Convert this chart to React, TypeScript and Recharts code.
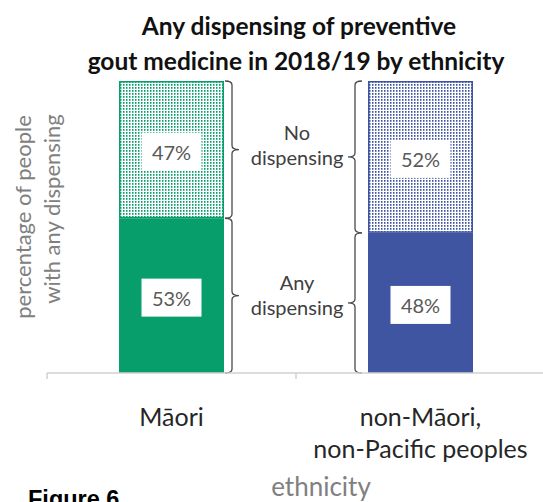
import React from "react";
import { BarChart, Bar, XAxis, YAxis, LabelList } from "recharts";

const categories = ["Māori", "non-Māori,\nnon-Pacific peoples"];
const anyDispensing = [53, 48];
const noDispensing = [47, 52];
const mainColors = ["#079e6b", "#3f55a2"];
const patternIds = ["dotsGreen", "dotsBlue"];

const data = categories.map((c, i) => ({
  name: c,
  any: anyDispensing[i],
  none: noDispensing[i],
}));

const FONT = "Lato, 'Open Sans', sans-serif";
const BRACE = "#4a4a4a";

function bracePath(x0: number, y1: number, y2: number, dir: number) {
  const d = 7 * dir;
  const t = 14 * dir;
  const ym = (y1 + y2) / 2;
  return `M${x0} ${y1} Q${x0 + d} ${y1} ${x0 + d} ${y1 + 4} L${x0 + d} ${ym - 4} Q${x0 + d} ${ym} ${x0 + t} ${ym} Q${x0 + d} ${ym} ${x0 + d} ${ym + 4} L${x0 + d} ${y2 - 4} Q${x0 + d} ${y2} ${x0} ${y2}`;
}

const AnyShape = (props: any) => {
  const { x, y, width, height, index } = props;
  const dir = index === 0 ? 1 : -1;
  const bx = index === 0 ? x + width + 1 : x - 6;
  return (
    <g>
      <rect x={x} y={y} width={width} height={height} fill={mainColors[index]} />
      <path d={bracePath(bx, y, y + height, dir)} fill="none" stroke={BRACE} strokeWidth={1.3} />
      {index === 0 && (
        <text x={x + width + 73} y={y + height / 2} textAnchor="middle" fontFamily={FONT} fontSize={20} fill="#404040">
          <tspan x={x + width + 73} dy={-6}>Any</tspan>
          <tspan x={x + width + 73} dy={25}>dispensing</tspan>
        </text>
      )}
    </g>
  );
};

const NoneShape = (props: any) => {
  const { x, y, width, height, index } = props;
  const dir = index === 0 ? 1 : -1;
  const bx = index === 0 ? x + width + 1 : x - 6;
  return (
    <g>
      <rect x={x + 0.75} y={y + 0.75} width={width - 1.5} height={height - 1.5} fill={`url(#${patternIds[index]})`} stroke={mainColors[index]} strokeWidth={1.5} />
      <path d={bracePath(bx, y, y + height, dir)} fill="none" stroke={BRACE} strokeWidth={1.3} />
      {index === 0 && (
        <text x={x + width + 73} y={y + height / 2} textAnchor="middle" fontFamily={FONT} fontSize={20} fill="#404040">
          <tspan x={x + width + 73} dy={-10}>No</tspan>
          <tspan x={x + width + 73} dy={25}>dispensing</tspan>
        </text>
      )}
    </g>
  );
};

const ValueLabel = (props: any) => {
  const { x, y, width, height, value } = props;
  const cx = x + width / 2;
  const cy = y + height / 2 + 2;
  return (
    <g>
      <rect x={cx - 30} y={cy - 19} width={60} height={38} fill="#ffffff" />
      <text x={cx} y={cy} textAnchor="middle" dominantBaseline="central" fontFamily={FONT} fontSize={20} fill="#595959">
        {`${value}%`}
      </text>
    </g>
  );
};

const CategoryTick = (props: any) => {
  const { x, y, payload } = props;
  const lines = String(payload.value).split("\n");
  const off = payload.offset ?? 0;
  return (
    <g>
      <line x1={x - off} y1={y - 8} x2={x - off} y2={y - 2} stroke="#d0d0d0" strokeWidth={1.5} />
      <text x={x} y={y + 45} textAnchor="middle" fontFamily={FONT} fontSize={25} fill="#262626">
        {lines.map((l, i) => (
          <tspan key={i} x={x} dy={i === 0 ? 0 : 32}>
            {l}
          </tspan>
        ))}
      </text>
    </g>
  );
};

export default function App() {
  return (
    <div style={{ position: "absolute", left: 0, top: 0, width: 543, height: 502, overflow: "hidden", background: "#fff" }}>
      <BarChart width={560} height={502} data={data} margin={{ top: 81, left: 47, right: 15, bottom: 0 }}>
        <defs>
          <pattern id="dotsGreen" width={3} height={3} patternUnits="userSpaceOnUse">
            <rect width={3} height={3} fill="#ffffff" />
            <rect width={1.5} height={1.8} fill={mainColors[0]} />
          </pattern>
          <pattern id="dotsBlue" width={3} height={3} patternUnits="userSpaceOnUse">
            <rect width={3} height={3} fill="#ffffff" />
            <rect width={1.5} height={1.8} fill={mainColors[1]} />
          </pattern>
        </defs>
        <XAxis
          dataKey="name"
          height={129}
          axisLine={{ stroke: "#d0d0d0", strokeWidth: 1.5 }}
          tickLine={false}
          tick={<CategoryTick />}
          interval={0}
        />
        <YAxis hide domain={[0, 100]} />
        <Bar dataKey="any" stackId="s" barSize={105} shape={<AnyShape />} isAnimationActive={false}>
          <LabelList dataKey="any" content={<ValueLabel />} />
        </Bar>
        <Bar dataKey="none" stackId="s" barSize={105} shape={<NoneShape />} isAnimationActive={false}>
          <LabelList dataKey="none" content={<ValueLabel />} />
        </Bar>
      </BarChart>
      <svg width={543} height={502} style={{ position: "absolute", left: 0, top: 0, pointerEvents: "none" }}>
        <text x={299} y={35} textAnchor="middle" fontFamily={FONT} fontWeight="bold" fontSize={24.5} fill="#111">
          Any dispensing of preventive
        </text>
        <text x={296} y={70} textAnchor="middle" fontFamily={FONT} fontWeight="bold" fontSize={24.5} fill="#111">
          gout medicine in 2018/19 by ethnicity
        </text>
        <text transform="rotate(-90 22 217)" x={22} y={217} textAnchor="middle" dominantBaseline="central" fontFamily={FONT} fontSize={22} fill="#808080">
          percentage of people
        </text>
        <text transform="rotate(-90 51 209)" x={51} y={209} textAnchor="middle" dominantBaseline="central" fontFamily={FONT} fontSize={22} fill="#808080">
          with any dispensing
        </text>
        <text x={321} y={496} textAnchor="middle" fontFamily={FONT} fontSize={26} fill="#808080">
          ethnicity
        </text>
        <text x={28} y={507} fontFamily="'Liberation Sans', Arial, sans-serif" fontWeight="bold" fontSize={23.5} fill="#000">
          Figure 6
        </text>
      </svg>
    </div>
  );
}
